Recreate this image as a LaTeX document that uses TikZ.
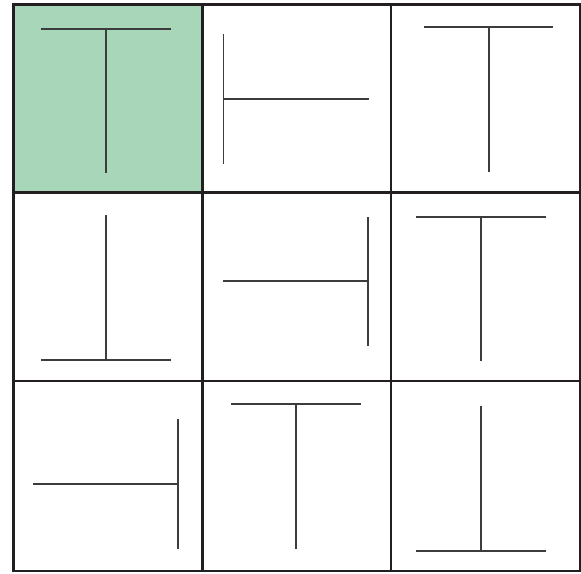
\documentclass[tikz,border=0pt]{standalone}
\usepackage{tikz}
\definecolor{tgvert}{RGB}{168,214,184}
\definecolor{tggrille}{RGB}{35,31,32}
\definecolor{tgtrait}{RGB}{60,60,62}

\begin{document}
\begin{tikzpicture}[x=0.02cm, y=-0.02cm]
  \useasboundingbox (0,0) rectangle (581,574);

  % Case verte
  \fill[tgvert] (13.5,4.5) rectangle (202.5,192.5);

  % Grille 3x3
  \draw[tggrille, line width=1.3pt] (13.5,4.5) rectangle (580,571);
  \draw[tggrille, line width=1.3pt] (202.5,4.5) -- (202.5,571);
  \draw[tggrille, line width=1.3pt] (391,4.5) -- (391,571);
  \draw[tggrille, line width=1.3pt] (13.5,192.5) -- (580,192.5);
  \draw[tggrille, line width=1.3pt] (13.5,381) -- (580,381);

  % Rangee 1
  \draw[tgtrait, line width=0.6pt] (41,29) -- (171,29);
  \draw[tgtrait, line width=0.6pt] (106,29) -- (106,173);
  \draw[tgtrait, line width=0.6pt] (223.5,34) -- (223.5,164);
  \draw[tgtrait, line width=0.6pt] (223.5,99) -- (369,99);
  \draw[tgtrait, line width=0.6pt] (424,27) -- (553,27);
  \draw[tgtrait, line width=0.6pt] (489,27) -- (489,172);

  % Rangee 2
  \draw[tgtrait, line width=0.6pt] (106,215) -- (106,360);
  \draw[tgtrait, line width=0.6pt] (41,360) -- (171,360);
  \draw[tgtrait, line width=0.6pt] (223,281) -- (368,281);
  \draw[tgtrait, line width=0.6pt] (368,217) -- (368,346);
  \draw[tgtrait, line width=0.6pt] (416,217) -- (546,217);
  \draw[tgtrait, line width=0.6pt] (481,217) -- (481,361);

  % Rangee 3
  \draw[tgtrait, line width=0.6pt] (33,484) -- (178,484);
  \draw[tgtrait, line width=0.6pt] (178,419) -- (178,549);
  \draw[tgtrait, line width=0.6pt] (231,404) -- (361,404);
  \draw[tgtrait, line width=0.6pt] (296,404) -- (296,549);
  \draw[tgtrait, line width=0.6pt] (481,406) -- (481,551);
  \draw[tgtrait, line width=0.6pt] (416,551) -- (546,551);
\end{tikzpicture}
\end{document}
